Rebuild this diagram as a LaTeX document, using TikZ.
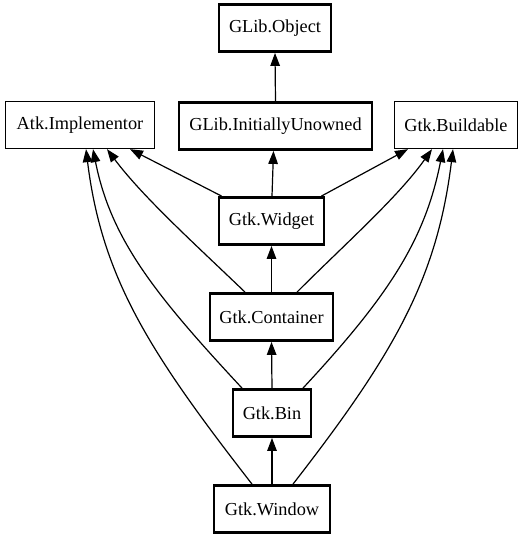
\documentclass[tikz,border=0pt]{standalone}
\usepackage{fontspec}
\setmainfont{Liberation Serif}
\usetikzlibrary{arrows.meta}
\newcommand{\clsfont}{\fontsize{18.3}{22}\selectfont}
\tikzset{
  cls/.style={draw, line width=1.3pt, minimum height=47pt, inner sep=0pt, font=\clsfont},
  thickcls/.style={cls, line width=2.8pt},
  inherit/.style={line width=1.2pt, -{Triangle[length=13pt,width=9.5pt]}}
}
\begin{document}
\begin{tikzpicture}[x=1pt,y=-1pt]
\useasboundingbox (0,0) rectangle (523,539);
\node[thickcls, minimum width=112pt] (obj) at (275,28) {GLib.Object};
\node[thickcls, minimum width=193pt] (iu) at (275.5,126) {GLib.InitiallyUnowned};
\node[cls, minimum width=149pt] (atk) at (80,125) {Atk.Implementor};
\node[cls, minimum width=123pt] (bld) at (456,125) {Gtk.Buildable};
\node[thickcls, minimum width=105pt] (wid) at (271.5,221) {Gtk.Widget};
\node[thickcls, minimum width=123pt] (con) at (271.5,317) {Gtk.Container};
\node[thickcls, minimum width=78pt] (bin) at (272,413) {Gtk.Bin};
\node[thickcls, minimum width=116pt] (win) at (272,509) {Gtk.Window};
\draw[inherit] (iu.north) -- (obj.south);
\draw[inherit] ([xshift=0.5pt]wid.north) -- ([xshift=-2pt]iu.south);
\draw[inherit] ([xshift=4pt]wid.north west) -- ([xshift=50pt]atk.south);
\draw[inherit] ([xshift=-4pt]wid.north east) -- ([xshift=-48pt]bld.south);
\draw[inherit] (con.north) -- (wid.south);
\draw[inherit] ([xshift=-26.5pt]con.north) .. controls +(-50,-48) and +(36,48) .. ([xshift=27pt]atk.south);
\draw[inherit] ([xshift=25.5pt]con.north) .. controls +(48,-48) and +(-34,48) .. ([xshift=-24pt]bld.south);
\draw[inherit] (bin.north) -- (con.south);
\draw[inherit] ([xshift=-30pt]bin.north) .. controls +(-85.5,-92) and +(18,91) .. ([xshift=13pt]atk.south);
\draw[inherit] ([xshift=31pt]bin.north) .. controls +(85.5,-92) and +(-18,91) .. ([xshift=-13pt]bld.south);
\draw[inherit] (win.north) -- (bin.south);
\draw[inherit] ([xshift=-20pt]win.north) .. controls +(-101,-130) and +(16,130) .. ([xshift=6pt]atk.south);
\draw[inherit] ([xshift=21pt]win.north) .. controls +(101,-130) and +(-16,130) .. ([xshift=-3pt]bld.south);
\end{tikzpicture}
\end{document}
